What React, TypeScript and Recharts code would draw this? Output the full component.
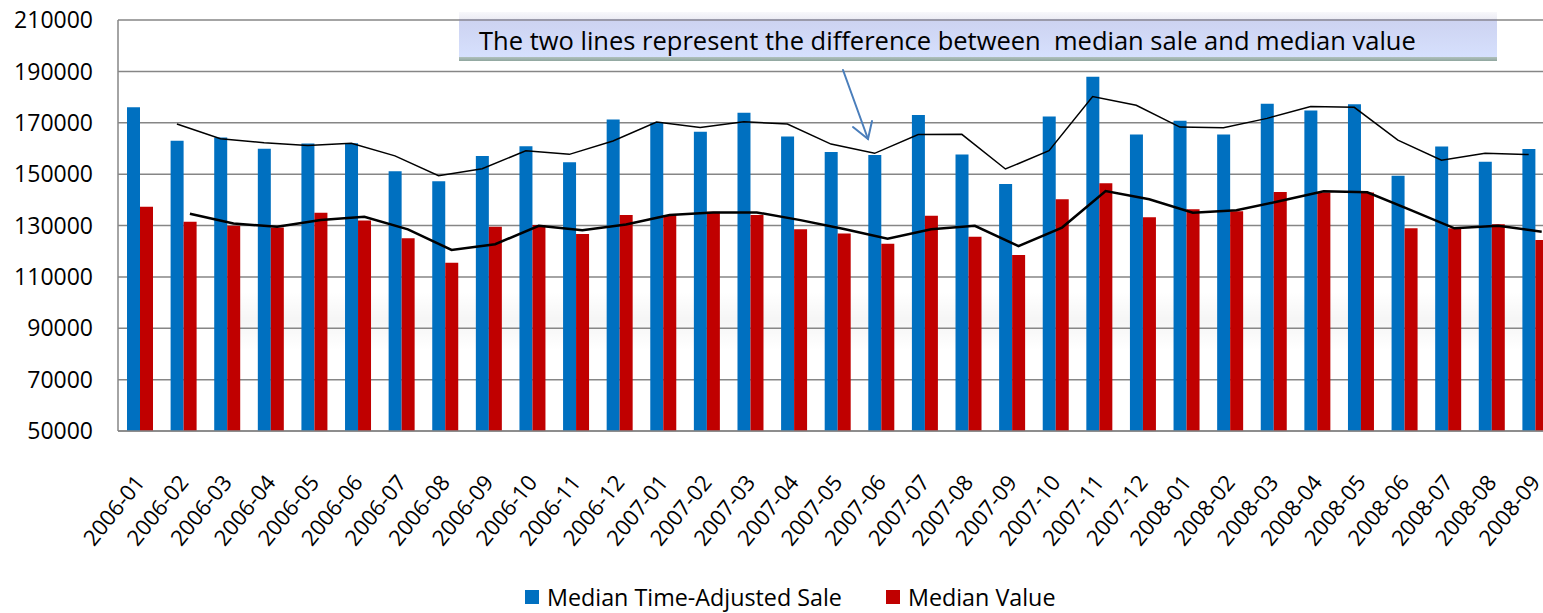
import React from "react";
import {
  ComposedChart,
  Bar,
  Line,
  XAxis,
  YAxis,
  CartesianGrid,
} from "recharts";

const months = [
  "2006-01", "2006-02", "2006-03", "2006-04", "2006-05", "2006-06",
  "2006-07", "2006-08", "2006-09", "2006-10", "2006-11", "2006-12",
  "2007-01", "2007-02", "2007-03", "2007-04", "2007-05", "2007-06",
  "2007-07", "2007-08", "2007-09", "2007-10", "2007-11", "2007-12",
  "2008-01", "2008-02", "2008-03", "2008-04", "2008-05", "2008-06",
  "2008-07", "2008-08", "2008-09",
];

const medianSale = [
  176000, 163000, 164300, 159900, 161900, 162000, 151100, 147200, 157100,
  160900, 154600, 171300, 170000, 166500, 173900, 164600, 158600, 157400,
  173000, 157600, 146200, 172400, 187900, 165400, 170800, 165400, 177400,
  174800, 177200, 149400, 160800, 154800, 159800,
];

const medianValue = [
  137300, 131500, 129900, 129200, 135000, 131900, 125000, 115500, 129500,
  130200, 126700, 134100, 134100, 135400, 134100, 128500, 126900, 122900,
  133800, 125600, 118500, 140200, 146400, 133200, 136300, 135500, 143000,
  142800, 142800, 128900, 128900, 130500, 124400,
];

// trend lines as they appear on the picture (no value for the first month)
const saleTrend = [
  null, 169500, 163800, 162200, 161100, 162000, 157100, 149400, 152100,
  159100, 157700, 162900, 170300, 168200, 170400, 169500, 161700, 158100,
  165400, 165500, 152000, 159100, 180200, 176800, 168300, 168100, 171700,
  176300, 176000, 163200, 155400, 158100, 157600,
];

const valueTrend = [
  null, 134600, 130800, 129500, 132100, 133400, 128500, 120500, 122700,
  129900, 128200, 130400, 134100, 135100, 135100, 132100, 128600, 124900,
  128500, 129900, 122000, 129200, 143400, 140200, 135000, 135900, 139500,
  143300, 142900, 136000, 128900, 129900, 127600,
];

const yTicks = [50000, 70000, 90000, 110000, 130000, 150000, 170000, 190000, 210000];

const data = months.map((m, i) => ({
  month: m,
  sale: medianSale[i],
  value: medianValue[i],
  saleTrend: saleTrend[i],
  valueTrend: valueTrend[i],
}));

const FONT = "'Open Sans', sans-serif";
const GRID = "#868686";

const MonthTick = (props: any) => {
  const { x, y, payload } = props;
  const tx = x;
  const ty = y + 39;
  return (
    <text
      x={tx}
      y={ty}
      dy="0.36em"
      textAnchor="end"
      transform={`rotate(-51, ${tx}, ${ty})`}
      fontSize={22}
      fontFamily={FONT}
      fill="#000"
    >
      {payload.value}
    </text>
  );
};

export default function App() {
  return (
    <div
      style={{
        position: "fixed",
        left: 0,
        top: 0,
        width: 1543,
        height: 613,
        overflow: "hidden",
        background: "#fff",
        fontFamily: FONT,
      }}
    >
      <style>{`
        .shift-blue { transform: translate(-6.5px, 0); }
        .shift-red { transform: translate(6.5px, 0); }
      `}</style>

      {/* faint reflection band behind the plot */}
      <div
        style={{
          position: "absolute",
          left: 240,
          top: 292,
          width: 1303,
          height: 58,
          background:
            "linear-gradient(to bottom, rgba(0,0,0,0) 0%, rgba(0,0,0,0.038) 50%, rgba(0,0,0,0) 100%)",
        }}
      />

      <ComposedChart
        width={1600}
        height={613}
        data={data}
        margin={{ top: 20, right: 43, left: 0, bottom: 0 }}
        barGap={0}
      >
        <CartesianGrid vertical={false} stroke={GRID} strokeWidth={1.5} />
        <XAxis
          dataKey="month"
          interval={0}
          height={182}
          tickLine={false}
          axisLine={{ stroke: GRID, strokeWidth: 1.5 }}
          tick={<MonthTick />}
        />
        <YAxis
          width={118}
          domain={[50000, 210000]}
          ticks={yTicks}
          interval={0}
          tickLine={false}
          tickSize={0}
          tickMargin={25}
          axisLine={{ stroke: GRID, strokeWidth: 1.5 }}
          tick={{ fill: "#000", fontSize: 23, fontFamily: FONT }}
        />
        <Bar dataKey="sale" fill="#0070C0" barSize={13} isAnimationActive={false} />
        <Bar dataKey="value" fill="#C00000" barSize={13} isAnimationActive={false} />
        <Line
          type="linear"
          dataKey="saleTrend"
          className="shift-blue"
          stroke="#000"
          strokeWidth={1.5}
          dot={false}
          activeDot={false}
          isAnimationActive={false}
        />
        <Line
          type="linear"
          dataKey="valueTrend"
          className="shift-red"
          stroke="#000"
          strokeWidth={2.5}
          dot={false}
          activeDot={false}
          isAnimationActive={false}
        />
      </ComposedChart>

      {/* annotation box */}
      <div
        style={{
          position: "absolute",
          left: 459,
          top: 12,
          width: 1038,
          height: 49,
          background:
            "linear-gradient(to bottom, #f8f8fb 0px, #ececf4 7px, #9a9aaa 7px, #9a9aaa 9px, #cdd3f1 9px, #d6e0fd 45px, #b0c0bc 45px, #90a69f 49px)",
          boxSizing: "border-box",
          paddingLeft: 20,
          paddingTop: 13,
          fontSize: 25.5,
          lineHeight: "30px",
          color: "#000",
          whiteSpace: "pre",
        }}
      >
        {"The two lines represent the difference between  median sale and median value"}
      </div>

      {/* arrow */}
      <svg
        width={1543}
        height={613}
        style={{ position: "absolute", left: 0, top: 0, pointerEvents: "none" }}
      >
        <g stroke="#4a7ebb" strokeWidth={2} fill="none" strokeLinecap="round">
          <line x1={843} y1={70} x2={868} y2={139} />
          <polyline points="853,127 868,139 872,121" />
        </g>
      </svg>

      {/* legend */}
      <div
        style={{
          position: "absolute",
          left: 525,
          top: 585,
          display: "flex",
          alignItems: "center",
          fontSize: 23.3,
          lineHeight: "24px",
          color: "#000",
        }}
      >
        <span style={{ width: 14, height: 14, background: "#0070C0", marginRight: 8 }} />
        <span style={{ marginRight: 44 }}>Median Time-Adjusted Sale</span>
        <span style={{ width: 14, height: 14, background: "#C00000", marginRight: 8 }} />
        <span>Median Value</span>
      </div>
    </div>
  );
}
